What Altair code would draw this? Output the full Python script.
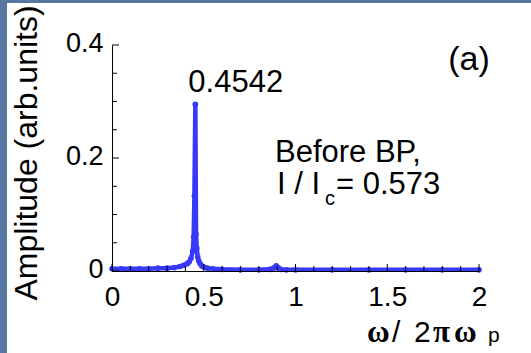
import altair as alt
import pandas as pd

# Spectrum of the oscillation amplitude before the bifurcation point
freq = [0.00, 0.05, 0.10, 0.15, 0.20, 0.25, 0.30, 0.34, 0.37, 0.39, 0.41, 0.42,
        0.43, 0.44, 0.445, 0.449, 0.4542, 0.458, 0.462, 0.467, 0.472, 0.48,
        0.49, 0.50, 0.52, 0.55, 0.60, 0.70, 0.80, 0.86, 0.88, 0.895, 0.905,
        0.92, 0.95, 1.00, 1.20, 1.40, 1.60, 1.80, 2.00]
amp = [0.004, 0.004, 0.004, 0.004, 0.004, 0.005, 0.005, 0.006, 0.008, 0.010,
       0.013, 0.016, 0.022, 0.035, 0.060, 0.133, 0.295, 0.065, 0.040, 0.025,
       0.018, 0.013, 0.009, 0.007, 0.005, 0.004, 0.003, 0.002, 0.002, 0.003,
       0.005, 0.009, 0.006, 0.003, 0.002, 0.002, 0.002, 0.002, 0.002, 0.002,
       0.002]

x_major = [0, 0.5, 1, 1.5, 2]
x_minor = [0.1, 0.2, 0.3, 0.4, 0.6, 0.7, 0.8, 0.9, 1.1, 1.2, 1.3, 1.4,
           1.6, 1.7, 1.8, 1.9]
y_major = [0, 0.2, 0.4]
y_minor = [0.05, 0.1, 0.15, 0.25, 0.3, 0.35]

W, H = 367, 226
BLUE = "#3838FA"
SANS = "Liberation Sans"
SERIF = "Liberation Serif"

df = pd.DataFrame({"freq": freq, "amp": amp})
peak = df.loc[[df["amp"].idxmax()]]

xs = alt.Scale(domain=[0, 2], nice=False, zero=False)
ys = alt.Scale(domain=[0, 0.4], nice=False)

x_axis = alt.Axis(values=x_major, format="~g", ticks=False, tickSize=0,
                  labelPadding=12, labelFontSize=28, labelFont=SANS,
                  labelColor="black", domainColor="black", domainWidth=1,
                  grid=False, title=None, zindex=1, labelFlush=False)
y_axis = alt.Axis(values=y_major, format="~g", ticks=False, tickSize=0,
                  labelPadding=9, labelFontSize=27, labelFont=SANS,
                  labelColor="black", domainColor="black", domainWidth=1,
                  grid=False, title=None, zindex=1, labelFlush=False,
                  labelOffset=-2)

spectrum = alt.Chart(df).mark_line(
    color=BLUE, strokeWidth=4.5,
    point=alt.OverlayMarkDef(color=BLUE, size=32, filled=True, opacity=1),
).encode(
    x=alt.X("freq:Q", scale=xs, axis=x_axis),
    y=alt.Y("amp:Q", scale=ys, axis=y_axis),
)

peak_label = alt.Chart(peak).mark_text(
    align="left", baseline="alphabetic", dx=-7, dy=-12,
    fontSize=31, font=SANS, color="black",
).encode(x=alt.X("freq:Q", scale=xs), y=alt.Y("amp:Q", scale=ys),
         text=alt.Text("freq:Q", format=".4f"))


def tick_marks(values, field, major):
    length = 7 if major else 5
    d = pd.DataFrame({field: values})
    if field == "xt":
        enc = dict(x=alt.X("xt:Q", scale=xs), y=alt.value(H),
                   y2=alt.value(H - length))
    else:
        enc = dict(y=alt.Y("yt:Q", scale=ys), x=alt.value(0),
                   x2=alt.value(length))
    return alt.Chart(d).mark_rule(color="black", strokeWidth=1).encode(**enc)


one = pd.DataFrame({"k": [0]})


def label(text, x, y, size=31, font=SANS, align="left", baseline="alphabetic",
          angle=0, weight="normal"):
    return alt.Chart(one).mark_text(
        text=text, fontSize=size, font=font, align=align, baseline=baseline,
        angle=angle, color="black", fontWeight=weight,
    ).encode(x=alt.value(x), y=alt.value(y))


def band(x0, x1, y0, y1):
    return alt.Chart(one).mark_rect(color="#56779F").encode(
        x=alt.value(x0), x2=alt.value(x1), y=alt.value(y0), y2=alt.value(y1))


layers = [
    band(-112, -105, -45, H + 82),
    band(-112, W + 52, -45, -42),
    spectrum,
    tick_marks(x_major, "xt", True),
    tick_marks(x_minor, "xt", False),
    tick_marks(y_major, "yt", True),
    tick_marks(y_minor, "yt", False),
    peak_label,
    label("Before BP,", 163, 117, size=31),
    label("I / I", 165, 149, size=31),
    label("c", 213, 160, size=20),
    label("= 0.573", 224, 149, size=31),
    label("(a)", 357, 15, size=34, align="center", baseline="middle"),
    label("Amplitude (arb.units)", -85, 108, size=32, align="center",
          baseline="middle", angle=270),
    label("\u03c9", 255, 297, size=31, font=SERIF, weight="bold"),
    label("/", 280, 297, size=30),
    label("2", 302, 297, size=30),
    label("\u03c0", 321, 297, size=31, font=SERIF, weight="bold"),
    label("\u03c9", 342, 297, size=31, font=SERIF, weight="bold"),
    label("p", 376, 297, size=21),
]

chart = alt.layer(*layers).properties(
    width=W, height=H,
    autosize=alt.AutoSizeParams(type="none"),
    padding={"left": 112, "top": 45, "right": 52, "bottom": 82},
    background="white",
).configure_view(stroke=None)

chart.save("out.html", embed_options={"renderer": "svg", "actions": False})
